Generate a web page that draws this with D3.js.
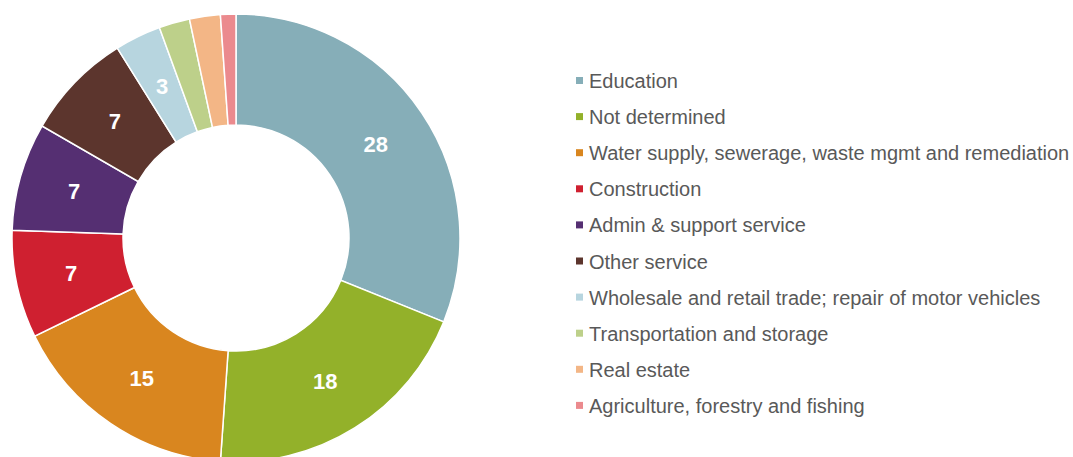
<!DOCTYPE html>
<html>
<head>
<meta charset="utf-8">
<script src="https://cdn.jsdelivr.net/npm/d3@7"></script>
<style>
  body { margin: 0; background: #fff; }
  svg { display: block; }
</style>
</head>
<body>
<div id="chart"></div>
<script>
// data
var categories = ["Education", "Not determined", "Water supply, sewerage, waste mgmt and remediation",
  "Construction", "Admin & support service", "Other service",
  "Wholesale and retail trade; repair of motor vehicles", "Transportation and storage",
  "Real estate", "Agriculture, forestry and fishing"];
var values = [28, 18, 15, 7, 7, 7, 3, 2, 2, 1];
var colors = ["#86aeb8", "#93b12a", "#d9861f", "#cf2030", "#552f72", "#5c352d",
  "#b7d5df", "#bdd08a", "#f3b686", "#eb8a8e"];
// only slices of 3 and up carry a label
var minLabel = 3;

var svgWidth = 1073;
var svgHeight = 457;

var svg = d3.select("#chart")
  .append("svg")
  .attr("width", svgWidth)
  .attr("height", svgHeight);

var cx = 236, cy = 238;
var outerR = 224, innerR = 113;

var color = d3.scaleOrdinal().domain(categories).range(colors);

var pie = d3.pie().sort(null).value(d => d.value);
var arc = d3.arc().innerRadius(innerR).outerRadius(outerR);

var rows = categories.map((c, i) => ({ name: c, value: values[i] }));

var donut = svg.append("g")
  .attr("transform", `translate(${cx}, ${cy})`);

donut.selectAll("path")
  .data(pie(rows))
  .enter()
  .append("path")
  .attr("d", arc)
  .attr("fill", d => color(d.data.name))
  .attr("stroke", "#fff")
  .attr("stroke-width", 1.5);

donut.selectAll("text")
  .data(pie(rows).filter(d => d.data.value >= minLabel))
  .enter()
  .append("text")
  .attr("transform", d => `translate(${arc.centroid(d)})`)
  .attr("text-anchor", "middle")
  .attr("dy", "0.36em")
  .attr("font-family", "Liberation Sans, Arial, sans-serif")
  .attr("font-weight", "bold")
  .attr("font-size", "22px")
  .attr("fill", "#fff")
  .text(d => d.data.value);

// legend
var legend = svg.append("g")
  .attr("transform", "translate(576, 81)");

var item = legend.selectAll("g")
  .data(categories)
  .enter()
  .append("g")
  .attr("transform", (d, i) => `translate(0, ${i * 36.1})`);

item.append("rect")
  .attr("x", 0)
  .attr("y", -4)
  .attr("width", 7)
  .attr("height", 7)
  .attr("fill", d => color(d));

item.append("text")
  .attr("x", 13)
  .attr("dy", "0.35em")
  .attr("font-family", "Liberation Sans, Arial, sans-serif")
  .attr("font-size", "20px")
  .attr("fill", "#595959")
  .text(d => d);
</script>
</body>
</html>
